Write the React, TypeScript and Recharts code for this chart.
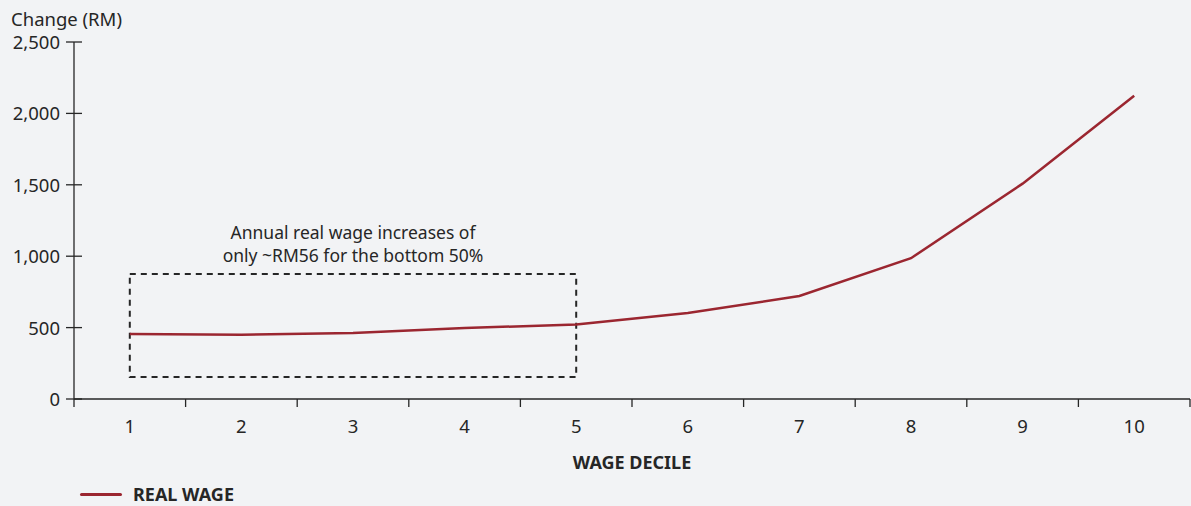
import React from 'react';
import { LineChart, Line, XAxis, YAxis, ReferenceArea } from 'recharts';

const deciles: number[] = [1, 2, 3, 4, 5, 6, 7, 8, 9, 10];
const realWage: number[] = [455, 450, 462, 497, 522, 602, 721, 986, 1508, 2123];
const yTicks: number[] = [0, 500, 1000, 1500, 2000, 2500];
const noteLines: string[] = ['Annual real wage increases of', 'only ~RM56 for the bottom 50%'];

const data = deciles.map((decile, i) => ({ decile, realWage: realWage[i] }));

const FONT = '"Noto Sans", "Open Sans", sans-serif';
const INK = '#262626';
const RED = '#9b2630';
const BG = '#f2f3f5';

const W = 1191;
const H = 506;
const PLOT_LEFT = 74;
const PLOT_RIGHT = 1190;
const BAND = (PLOT_RIGHT - PLOT_LEFT) / deciles.length;

const XTick = (props: any) => {
  const { x, y, payload, index } = props;
  const isLast = index === deciles.length - 1;
  return (
    <g>
      <line x1={x - BAND / 2} x2={x - BAND / 2} y1={y} y2={y + 8} stroke={INK} strokeWidth={1.3} />
      {isLast && (
        <line x1={x + BAND / 2} x2={x + BAND / 2} y1={y} y2={y + 8} stroke={INK} strokeWidth={1.3} />
      )}
      <text x={x} y={y + 34} textAnchor="middle" fill={INK} fontSize={18.5} fontFamily={FONT}>
        {payload.value}
      </text>
    </g>
  );
};

const YTick = (props: any) => {
  const { y, payload } = props;
  return (
    <g>
      <line x1={PLOT_LEFT - 8} x2={PLOT_LEFT + 8} y1={y} y2={y} stroke={INK} strokeWidth={1.3} />
      <text x={PLOT_LEFT - 14} y={y + 7} textAnchor="end" fill={INK} fontSize={18.5} fontFamily={FONT}>
        {payload.value.toLocaleString('en-US')}
      </text>
    </g>
  );
};

export default function App() {
  return (
    <div style={{ position: 'absolute', left: 0, top: 0, width: W, height: H, background: BG }}>
      <LineChart
        width={W}
        height={H}
        data={data}
        margin={{ top: 42, right: W - PLOT_RIGHT, bottom: 77, left: 14 }}
      >
        <XAxis
          dataKey="decile"
          type="number"
          domain={[0.5, 10.5]}
          ticks={deciles}
          height={30}
          tickLine={false}
          tickSize={0}
          tickMargin={0}
          stroke={INK}
          axisLine={{ stroke: INK, strokeWidth: 1.5 }}
          tick={<XTick />}
          interval={0}
          label={{
            content: (p: any) => (
              <text
                x={p.viewBox.x + p.viewBox.width / 2}
                y={p.viewBox.y + 70}
                textAnchor="middle"
                fill={INK}
                fontSize={18}
                fontWeight={700}
                fontFamily={FONT}
              >
                WAGE DECILE
              </text>
            ),
          }}
        />
        <YAxis
          type="number"
          domain={[0, 2500]}
          ticks={yTicks}
          width={60}
          tickLine={false}
          stroke={INK}
          axisLine={{ stroke: INK, strokeWidth: 1.3 }}
          tick={<YTick />}
          interval={0}
          label={{
            content: () => (
              <text x={11} y={26} fill={INK} fontSize={18.5} fontFamily={FONT}>
                Change (RM)
              </text>
            ),
          }}
        />
        <ReferenceArea
          x1={1}
          x2={5}
          y1={154}
          y2={875}
          fill="none"
          fillOpacity={0}
          stroke={INK}
          strokeWidth={2}
          strokeDasharray="6 5"
          label={{
            content: (p: any) => (
              <g>
                {noteLines.map((t, i) => (
                  <text
                    key={t}
                    x={p.viewBox.x + p.viewBox.width / 2}
                    y={p.viewBox.y - 35 + i * 23}
                    textAnchor="middle"
                    fill={INK}
                    fontSize={17.5}
                    fontFamily={FONT}
                  >
                    {t}
                  </text>
                ))}
              </g>
            ),
          }}
        />
        <Line
          dataKey="realWage"
          stroke={RED}
          strokeWidth={2.5}
          dot={false}
          activeDot={false}
          isAnimationActive={false}
        />
      </LineChart>
      <div
        style={{
          position: 'absolute',
          left: 80,
          top: 482,
          display: 'flex',
          alignItems: 'center',
          fontFamily: FONT,
          fontSize: 18,
          fontWeight: 700,
          color: INK,
        }}
      >
        <span style={{ display: 'inline-block', width: 42, height: 3, background: RED, borderRadius: 2, marginRight: 11 }} />
        REAL WAGE
      </div>
    </div>
  );
}
